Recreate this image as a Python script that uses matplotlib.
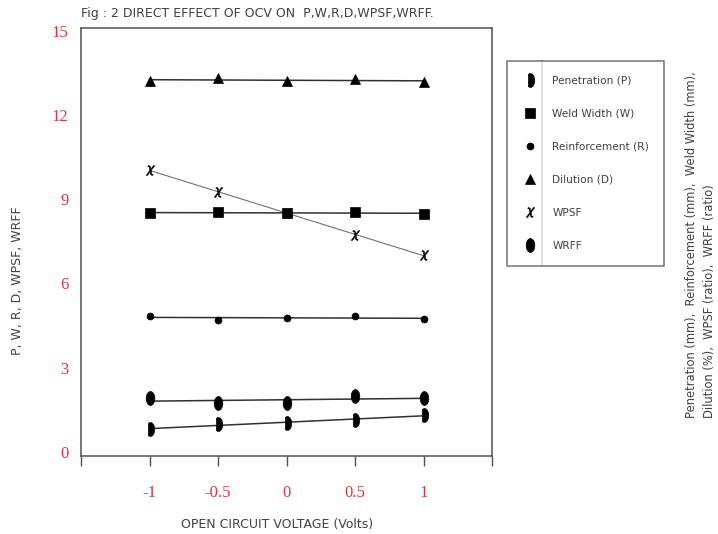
import numpy as np
import matplotlib
matplotlib.use("Agg")
import matplotlib.pyplot as plt
from matplotlib.path import Path

# open circuit voltage (coded levels)
ocv = [-1, -0.5, 0, 0.5, 1]

penetration = [0.82, 1.00, 1.03, 1.14, 1.32]
weld_width = [8.50, 8.54, 8.50, 8.54, 8.47]
reinforcement = [4.84, 4.70, 4.77, 4.84, 4.73]
dilution = [13.20, 13.31, 13.20, 13.27, 13.17]
wpsf = [10.04, 9.25, 8.51, 7.72, 7.01]
wrff = [1.92, 1.74, 1.74, 1.99, 1.92]

labels = ["Penetration (P)", "Weld Width (W)", "Reinforcement (R)",
          "Dilution (D)", "WPSF", "WRFF"]
yticks = [0, 3, 6, 9, 12, 15]
xticks = [-1, -0.5, 0, 0.5, 1]
xtick_labels = ["-1", "-0.5", "0", "0.5", "1"]

RED = "#e0353a"
GREY = "#505050"
TXT = "#404040"

# marker shapes: "D" shaped blob for P, tall ellipse for WRFF
t = np.radians(np.linspace(-120, 120, 40))
d_marker = Path([(0.6 * np.cos(a), np.sin(a)) for a in t] + [(0.6 * np.cos(t[0]), np.sin(t[0]))],
                closed=True)
e = np.linspace(0, 2 * np.pi, 40)
ell_marker = Path([(0.62 * np.cos(a), np.sin(a)) for a in e], closed=True)

series = [
    (penetration, dict(marker=d_marker, markersize=10)),
    (weld_width, dict(marker="s", markersize=7)),
    (reinforcement, dict(marker="o", markersize=5)),
    (dilution, dict(marker="^", markersize=7)),
    (wpsf, dict(marker=r"$\chi$", markersize=7)),
    (wrff, dict(marker=ell_marker, markersize=10)),
]

fig = plt.figure(figsize=(7.18, 5.34), dpi=100)
ax = fig.add_axes([81 / 718, 78 / 534, 411 / 718, 428 / 534])

x = np.array(ocv)
handles = []
for vals, mk in series:
    chi = mk["marker"] == r"$\chi$"
    k, b = np.polyfit(x, vals, 1)
    ax.plot(x, k * x + b, color="#707070" if chi else "#303030",
            lw=0.8 if chi else 1.1, zorder=2)
    h, = ax.plot(x, vals, linestyle="none", color="black", zorder=3,
                 markeredgewidth=0.4 if chi else 0.5, **mk)
    handles.append(h)

ax.set_xlim(-1.5, 1.5)
ax.set_ylim(-0.14, 15.09)
ax.set_xticks([-1.5] + xticks + [1.5])
ax.set_xticklabels([""] + xtick_labels + [""], color=RED,
                   fontfamily="Liberation Serif", fontsize=12)
ax.tick_params(axis="x", length=7, width=1, color=GREY, pad=14)
ax.set_yticks(yticks)
ax.set_yticklabels([str(v) for v in yticks], color=RED,
                   fontfamily="Liberation Serif", fontsize=12)
ax.tick_params(axis="y", length=0, pad=9)
for s in ax.spines.values():
    s.set_color(GREY)
    s.set_linewidth(1.1)

ax.set_xlabel("OPEN CIRCUIT VOLTAGE (Volts)", fontsize=9, color=TXT)
ax.xaxis.set_label_coords(0.477, -0.145)
ax.set_ylabel("P, W, R, D, WPSF, WRFF", fontsize=9, color=TXT)
ax.yaxis.set_label_coords(-0.138, 0.41)
fig.text(81 / 718, 1 - 14 / 534,
         "Fig : 2 DIRECT EFFECT OF OCV ON  P,W,R,D,WPSF,WRFF.",
         fontsize=9, color=TXT, va="center", ha="left")

leg = fig.legend(handles, labels, loc="upper left",
                 bbox_to_anchor=(507 / 718, 1 - 61 / 534),
                 frameon=True, fancybox=False, fontsize=7.6,
                 borderpad=1.42, labelspacing=2.17, handlelength=1.58,
                 handletextpad=1.31, borderaxespad=0, numpoints=1)
leg.get_frame().set_edgecolor(GREY)
leg.get_frame().set_linewidth(1.1)
for txt in leg.get_texts():
    txt.set_color(TXT)
fig.add_artist(plt.Line2D([542 / 718, 542 / 718], [1 - 61 / 534, 1 - 265 / 534],
                          color=GREY, lw=1.1, transform=fig.transFigure))

fig.text(700 / 718, 1 - 418 / 534,
         "Penetration (mm),  Reinforcement (mm),  Weld Width (mm),\n"
         "Dilution (%),  WPSF (ratio),  WRFF (ratio)",
         rotation=90, fontsize=8.3, color=TXT, ha="center", va="bottom",
         multialignment="left", linespacing=1.5)

fig.savefig("out.png", dpi=100)
